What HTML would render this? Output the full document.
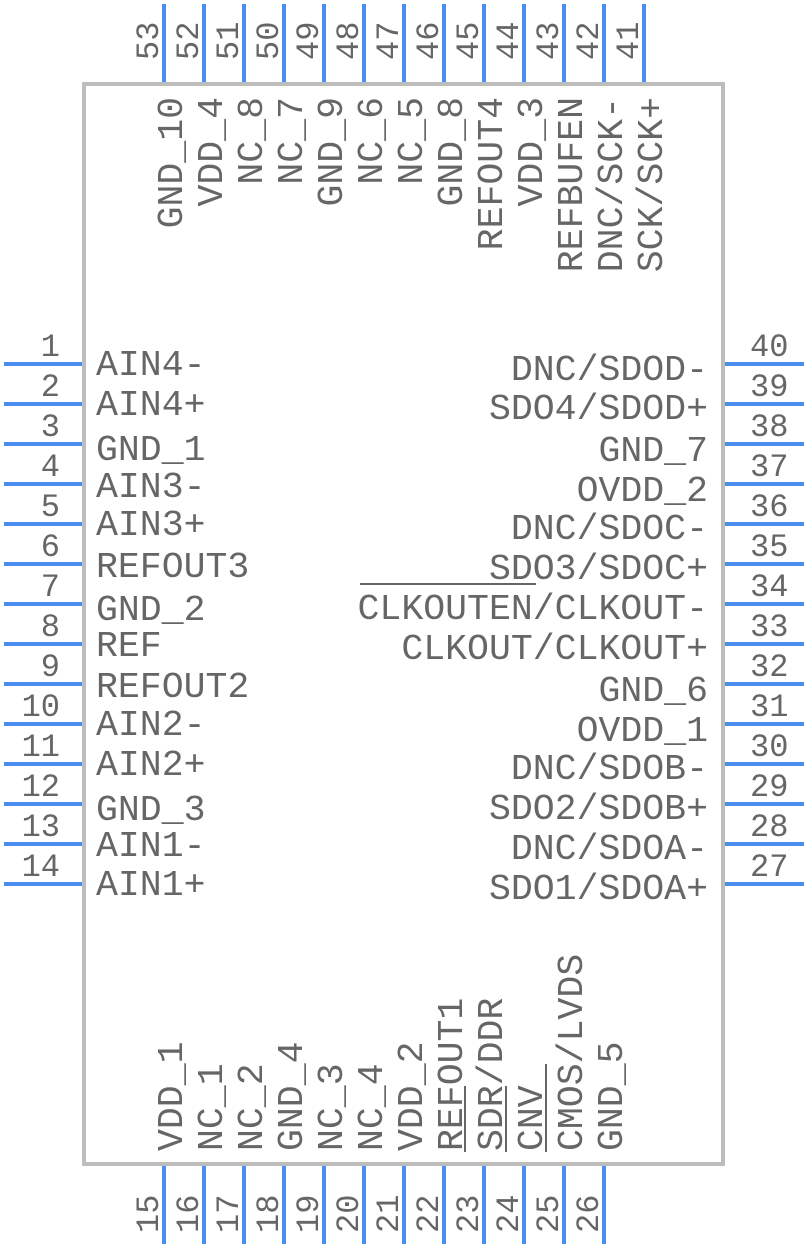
<!DOCTYPE html>
<html><head><meta charset="utf-8"><style>
html,body{margin:0;padding:0;background:#fff;}
svg{display:block;}
text{font-family:"Liberation Mono",monospace;fill:#666;}
.l{font-size:36.5px;}
.n{font-size:32px;}
</style></head><body>
<svg width="808" height="1248" viewBox="0 0 808 1248" xmlns="http://www.w3.org/2000/svg">
<g stroke="#4a8ff0" stroke-width="4">
<!-- left pins -->
<line x1="4" y1="364" x2="84" y2="364"/><line x1="4" y1="404" x2="84" y2="404"/><line x1="4" y1="444" x2="84" y2="444"/><line x1="4" y1="484" x2="84" y2="484"/><line x1="4" y1="524" x2="84" y2="524"/><line x1="4" y1="564" x2="84" y2="564"/><line x1="4" y1="604" x2="84" y2="604"/><line x1="4" y1="644" x2="84" y2="644"/><line x1="4" y1="684" x2="84" y2="684"/><line x1="4" y1="724" x2="84" y2="724"/><line x1="4" y1="764" x2="84" y2="764"/><line x1="4" y1="804" x2="84" y2="804"/><line x1="4" y1="844" x2="84" y2="844"/><line x1="4" y1="884" x2="84" y2="884"/>
<!-- right pins -->
<line x1="724" y1="364" x2="804" y2="364"/><line x1="724" y1="404" x2="804" y2="404"/><line x1="724" y1="444" x2="804" y2="444"/><line x1="724" y1="484" x2="804" y2="484"/><line x1="724" y1="524" x2="804" y2="524"/><line x1="724" y1="564" x2="804" y2="564"/><line x1="724" y1="604" x2="804" y2="604"/><line x1="724" y1="644" x2="804" y2="644"/><line x1="724" y1="684" x2="804" y2="684"/><line x1="724" y1="724" x2="804" y2="724"/><line x1="724" y1="764" x2="804" y2="764"/><line x1="724" y1="804" x2="804" y2="804"/><line x1="724" y1="844" x2="804" y2="844"/><line x1="724" y1="884" x2="804" y2="884"/>
<!-- top pins -->
<line x1="164" y1="4" x2="164" y2="84"/><line x1="204" y1="4" x2="204" y2="84"/><line x1="244" y1="4" x2="244" y2="84"/><line x1="284" y1="4" x2="284" y2="84"/><line x1="324" y1="4" x2="324" y2="84"/><line x1="364" y1="4" x2="364" y2="84"/><line x1="404" y1="4" x2="404" y2="84"/><line x1="444" y1="4" x2="444" y2="84"/><line x1="484" y1="4" x2="484" y2="84"/><line x1="524" y1="4" x2="524" y2="84"/><line x1="564" y1="4" x2="564" y2="84"/><line x1="604" y1="4" x2="604" y2="84"/><line x1="644" y1="4" x2="644" y2="84"/>
<!-- bottom pins -->
<line x1="164" y1="1164" x2="164" y2="1244"/><line x1="204" y1="1164" x2="204" y2="1244"/><line x1="244" y1="1164" x2="244" y2="1244"/><line x1="284" y1="1164" x2="284" y2="1244"/><line x1="324" y1="1164" x2="324" y2="1244"/><line x1="364" y1="1164" x2="364" y2="1244"/><line x1="404" y1="1164" x2="404" y2="1244"/><line x1="444" y1="1164" x2="444" y2="1244"/><line x1="484" y1="1164" x2="484" y2="1244"/><line x1="524" y1="1164" x2="524" y2="1244"/><line x1="564" y1="1164" x2="564" y2="1244"/><line x1="604" y1="1164" x2="604" y2="1244"/>
</g>
<rect x="84" y="84" width="639" height="1080" fill="none" stroke="#bdbdbd" stroke-width="4"/>

<!-- left pin numbers -->
<g class="n" text-anchor="end">
<text x="60" y="356">1</text><text x="60" y="396">2</text><text x="60" y="436">3</text><text x="60" y="476">4</text><text x="60" y="516">5</text><text x="60" y="556">6</text><text x="60" y="596">7</text><text x="60" y="636">8</text><text x="60" y="676">9</text><text x="60" y="716">10</text><text x="60" y="756">11</text><text x="60" y="796">12</text><text x="60" y="836">13</text><text x="60" y="876">14</text>
</g>
<!-- right pin numbers -->
<g class="n">
<text x="750" y="356">40</text><text x="750" y="396">39</text><text x="750" y="436">38</text><text x="750" y="476">37</text><text x="750" y="516">36</text><text x="750" y="556">35</text><text x="750" y="596">34</text><text x="750" y="636">33</text><text x="750" y="676">32</text><text x="750" y="716">31</text><text x="750" y="756">30</text><text x="750" y="796">29</text><text x="750" y="836">28</text><text x="750" y="876">27</text>
</g>
<!-- left labels -->
<g class="l">
<text x="96" y="375">AIN4-</text><text x="96" y="415">AIN4+</text><text x="96" y="460">GND_1</text><text x="96" y="497">AIN3-</text><text x="96" y="535">AIN3+</text><text x="96" y="577">REFOUT3</text><text x="96" y="620">GND_2</text><text x="96" y="656">REF</text><text x="96" y="697">REFOUT2</text><text x="96" y="735">AIN2-</text><text x="96" y="775">AIN2+</text><text x="96" y="820">GND_3</text><text x="96" y="856">AIN1-</text><text x="96" y="895">AIN1+</text>
</g>
<!-- right labels -->
<g class="l" text-anchor="end">
<text x="708" y="380">DNC/SDOD-</text><text x="708" y="419">SDO4/SDOD+</text><text x="708" y="461">GND_7</text><text x="708" y="501">OVDD_2</text><text x="708" y="539">DNC/SDOC-</text><text x="708" y="579">SDO3/SDOC+</text><text x="708" y="619">CLKOUTEN/CLKOUT-</text><text x="708" y="659">CLKOUT/CLKOUT+</text><text x="708" y="701">GND_6</text><text x="708" y="741">OVDD_1</text><text x="708" y="779">DNC/SDOB-</text><text x="708" y="819">SDO2/SDOB+</text><text x="708" y="859">DNC/SDOA-</text><text x="708" y="899">SDO1/SDOA+</text>
</g>
<line x1="360" y1="584" x2="536" y2="584" stroke="#666" stroke-width="2"/>

<!-- top pin numbers -->
<g class="n">
<text transform="translate(158,60) rotate(-90)">53</text><text transform="translate(198,60) rotate(-90)">52</text><text transform="translate(238,60) rotate(-90)">51</text><text transform="translate(278,60) rotate(-90)">50</text><text transform="translate(318,60) rotate(-90)">49</text><text transform="translate(358,60) rotate(-90)">48</text><text transform="translate(398,60) rotate(-90)">47</text><text transform="translate(438,60) rotate(-90)">46</text><text transform="translate(478,60) rotate(-90)">45</text><text transform="translate(518,60) rotate(-90)">44</text><text transform="translate(558,60) rotate(-90)">43</text><text transform="translate(598,60) rotate(-90)">42</text><text transform="translate(638,60) rotate(-90)">41</text>
</g>
<!-- top labels -->
<g class="l" text-anchor="end">
<text transform="translate(182,97) rotate(-90)">GND_10</text><text transform="translate(222,97) rotate(-90)">VDD_4</text><text transform="translate(262,97) rotate(-90)">NC_8</text><text transform="translate(302,97) rotate(-90)">NC_7</text><text transform="translate(342,97) rotate(-90)">GND_9</text><text transform="translate(382,97) rotate(-90)">NC_6</text><text transform="translate(422,97) rotate(-90)">NC_5</text><text transform="translate(462,97) rotate(-90)">GND_8</text><text transform="translate(502,97) rotate(-90)">REFOUT4</text><text transform="translate(542,97) rotate(-90)">VDD_3</text><text transform="translate(582,97) rotate(-90)">REFBUFEN</text><text transform="translate(622,97) rotate(-90)">DNC/SCK-</text><text transform="translate(662,97) rotate(-90)">SCK/SCK+</text>
</g>
<!-- bottom pin numbers -->
<g class="n">
<text transform="translate(158,1233) rotate(-90)">15</text><text transform="translate(198,1233) rotate(-90)">16</text><text transform="translate(238,1233) rotate(-90)">17</text><text transform="translate(278,1233) rotate(-90)">18</text><text transform="translate(318,1233) rotate(-90)">19</text><text transform="translate(358,1233) rotate(-90)">20</text><text transform="translate(398,1233) rotate(-90)">21</text><text transform="translate(438,1233) rotate(-90)">22</text><text transform="translate(478,1233) rotate(-90)">23</text><text transform="translate(518,1233) rotate(-90)">24</text><text transform="translate(558,1233) rotate(-90)">25</text><text transform="translate(598,1233) rotate(-90)">26</text>
</g>
<!-- bottom labels -->
<g class="l">
<text transform="translate(182,1151) rotate(-90)">VDD_1</text><text transform="translate(222,1151) rotate(-90)">NC_1</text><text transform="translate(262,1151) rotate(-90)">NC_2</text><text transform="translate(302,1151) rotate(-90)">GND_4</text><text transform="translate(342,1151) rotate(-90)">NC_3</text><text transform="translate(382,1151) rotate(-90)">NC_4</text><text transform="translate(422,1151) rotate(-90)">VDD_2</text><text transform="translate(462,1151) rotate(-90)">REFOUT1</text><text transform="translate(502,1151) rotate(-90)">SDR/DDR</text><text transform="translate(542,1151) rotate(-90)">CNV</text><text transform="translate(582,1151) rotate(-90)">CMOS/LVDS</text><text transform="translate(622,1151) rotate(-90)">GND_5</text>
</g>
<g stroke="#666" stroke-width="2">
<line x1="465" y1="1086" x2="465" y2="1152"/>
<line x1="506" y1="1086" x2="506" y2="1152"/>
<line x1="546" y1="1064" x2="546" y2="1152"/>
</g>
</svg>
</body></html>
